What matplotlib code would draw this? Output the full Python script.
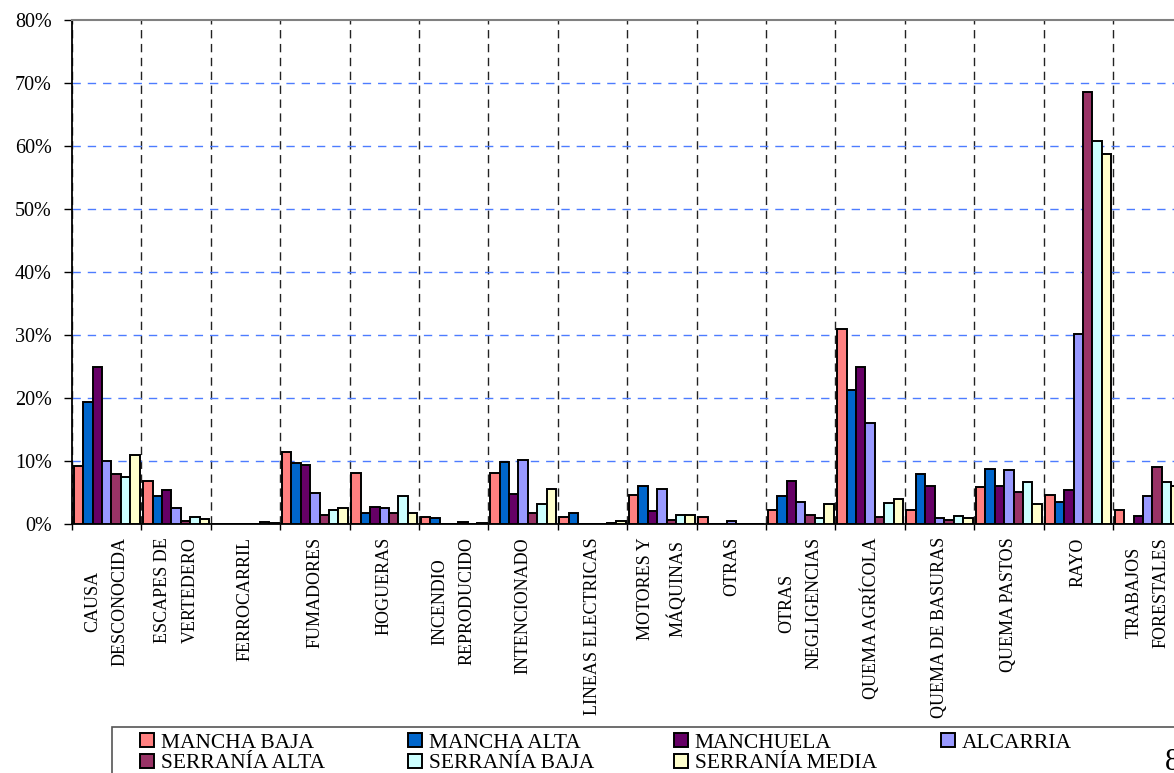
import matplotlib
matplotlib.use("Agg")
import matplotlib.pyplot as plt
import numpy as np
from matplotlib.patches import Rectangle

categories = ["CAUSA\nDESCONOCIDA", "ESCAPES DE\nVERTEDERO", "FERROCARRIL", "FUMADORES",
              "HOGUERAS", "INCENDIO\nREPRODUCIDO", "INTENCIONADO", "LINEAS ELECTRICAS",
              "MOTORES Y\nMÁQUINAS", "OTRAS", "OTRAS\nNEGLIGENCIAS", "QUEMA AGRÍCOLA",
              "QUEMA DE BASURAS", "QUEMA PASTOS", "RAYO", "TRABAJOS\nFORESTALES"]

series_names = ["MANCHA BAJA", "MANCHA ALTA", "MANCHUELA", "ALCARRIA",
                "SERRANÍA ALTA", "SERRANÍA BAJA", "SERRANÍA MEDIA"]

mancha_baja    = [9.2, 6.9, 0, 11.5, 8.1, 1.1, 8.1, 1.1, 4.6, 1.1, 2.3, 31.0, 2.3, 5.8, 4.6, 2.3]
mancha_alta    = [19.4, 4.4, 0, 9.7, 1.7, 0.9, 9.8, 1.7, 6.1, 0, 4.4, 21.2, 8.0, 8.8, 3.5, 0]
manchuela      = [24.9, 5.4, 0, 9.4, 2.7, 0, 4.7, 0, 2.0, 0, 6.8, 25.0, 6.1, 6.1, 5.4, 1.3]
alcarria       = [10.0, 2.5, 0, 5.0, 2.5, 0, 10.1, 0, 5.5, 0.5, 3.5, 16.0, 0.9, 8.6, 30.2, 4.5]
serrania_alta  = [7.9, 0.4, 0, 1.4, 1.8, 0.3, 1.8, 0, 0.7, 0, 1.4, 1.1, 0.7, 5.1, 68.5, 9.0]
serrania_baja  = [7.4, 1.1, 0.3, 2.3, 4.5, 0, 3.2, 0.2, 1.4, 0, 1.0, 3.4, 1.2, 6.6, 60.8, 6.6]
serrania_media = [10.9, 0.8, 0.15, 2.6, 1.7, 0.2, 5.5, 0.5, 1.5, 0, 3.2, 4.0, 1.0, 3.2, 58.7, 6.0]

series_values = [mancha_baja, mancha_alta, manchuela, alcarria,
                 serrania_alta, serrania_baja, serrania_media]
colors = ["#FF8080", "#0066CC", "#660066", "#9999FF", "#993366", "#CCFFFF", "#FFFFCC"]
y_ticks = [0, 10, 20, 30, 40, 50, 60, 70, 80]

serif = ["Liberation Serif", "DejaVu Serif"]
plt.rcParams["font.family"] = serif

W, H = 1174, 773
fig = plt.figure(figsize=(W / 100, H / 100), dpi=100)
ax_left, ax_right, ax_top, ax_bottom = 72, 1182.4, 20, 524
ax = fig.add_axes([ax_left / W, 1 - ax_bottom / H, (ax_right - ax_left) / W, (ax_bottom - ax_top) / H])

n = len(categories)
x = np.arange(n) + 0.5
bw = 0.136
handles = []
for i, (name, vals, c) in enumerate(zip(series_names, series_values, colors)):
    h = ax.bar(x + (i - 3) * bw, vals, width=bw, color=c, edgecolor="black",
               linewidth=1.4, label=name, zorder=3)
    handles.append(h)

ax.set_xlim(0, n)
ax.set_ylim(0, 80)
ax.set_yticks(y_ticks)
ax.set_yticklabels([f"{v}%" for v in y_ticks], fontsize=14.5)
ax.tick_params(axis="y", direction="out", length=6, width=1, pad=8.5)

ax.set_xticks(x)
ax.set_xticklabels(categories, rotation=90, fontsize=13, va="top", ha="center",
                   multialignment="center", linespacing=1.8)
ax.tick_params(axis="x", which="major", length=0, pad=9.5)
ax.set_xticks(np.arange(0, n + 1), minor=True)
ax.tick_params(axis="x", which="minor", direction="out", length=4.5, width=1)

ax.set_axisbelow(True)
ax.yaxis.grid(True, color="#4d7cff", linestyle=(0, (6, 5)), linewidth=1.0)
ax.xaxis.grid(True, which="minor", color="#222222", linestyle=(0, (6, 4)), linewidth=1.0)
ax.xaxis.grid(False, which="major")
ylines = ax.get_ygridlines()
ylines[0].set_visible(False)
ylines[-1].set_visible(False)

ax.spines["top"].set_color("#808080")
ax.spines["top"].set_linewidth(1.5)
ax.spines["right"].set_visible(False)
ax.spines["left"].set_linewidth(1.3)
ax.spines["bottom"].set_linewidth(1.3)

# legend frame (extends beyond the figure edge, as in the reference)
fig.patches.append(Rectangle((112 / W, -0.1), 1.2, (1 - 727 / H) + 0.1,
                             transform=fig.transFigure, fill=False,
                             edgecolor="#555555", linewidth=1.2))
# one legend column per position, rows: [0..3] on top, [4..6] below
col_x = [136, 404, 670, 937]
columns = [[0, 4], [1, 5], [2, 6], [3]]
for cx, idx in zip(col_x, columns):
    lg = fig.legend([handles[k] for k in idx], [series_names[k] for k in idx],
                    loc="upper left", bbox_to_anchor=(cx / W, 1 - 729 / H),
                    ncol=1, frameon=False, fontsize=15.5, handlelength=0.65,
                    handleheight=0.62, handletextpad=0.3,
                    labelspacing=0.04, borderpad=0.2, borderaxespad=0)

fig.text(1165 / W, 1 - 748 / H, "8", fontsize=22, ha="left", va="top")

fig.savefig("out.png", dpi=100)
